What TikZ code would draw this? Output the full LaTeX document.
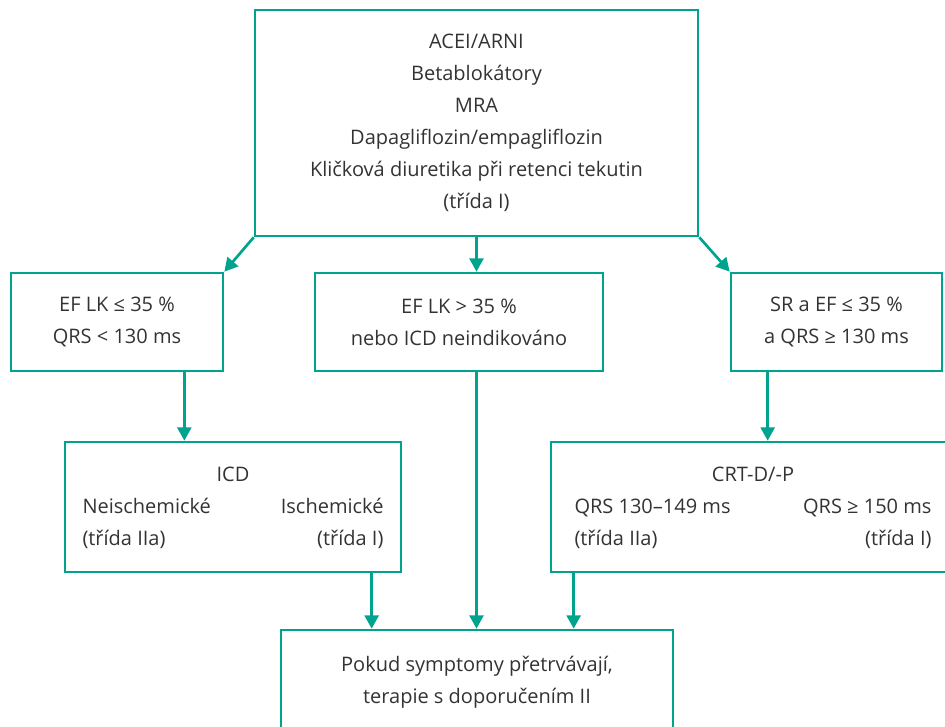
\documentclass[tikz,border=0pt]{standalone}
\usepackage{fontspec}
\setmainfont{Open Sans}
\usepackage{tikz}
\usetikzlibrary{arrows.meta,positioning,calc}
\definecolor{tealline}{RGB}{0,163,141}
\tikzset{
  box/.style={draw=tealline, line width=2pt, align=center, inner sep=0pt,
    text=black!80, font=\fontsize{15pt}{24pt}\selectfont},
  arrow/.style={draw=tealline, -{Triangle[length=10pt,width=10.5pt]}, line width=2pt},
}

\begin{document}
\begin{tikzpicture}[x=0.75pt,y=-0.75pt]
  \useasboundingbox (0,0) rectangle (945,726);
  \clip (0,0) rectangle (945,726);
  % first line
  \node[box, minimum width=443*0.75pt, minimum height=226*0.75pt] (top) at (476.5,123)
    {ACEI/ARNI\\Betablokátory\\MRA\\Dapagliflozin/empagliflozin\\Kličková diuretika při retenci tekutin\\(třída I)};
  % second line
  \node[box, minimum width=212*0.75pt, minimum height=98*0.75pt] (ef35) at (117,322)
    {EF LK ≤ 35 \%\\QRS < 130 ms};
  \node[box, minimum width=288*0.75pt, minimum height=98*0.75pt] (efgt) at (459,322)
    {EF LK > 35 \%\\nebo ICD neindikováno};
  \node[box, minimum width=211*0.75pt, minimum height=98*0.75pt] (sr) at (836.5,322)
    {SR a EF ≤ 35 \%\\a QRS ≥ 130 ms};
  % devices
  \node[box, minimum width=336*0.75pt, minimum height=130*0.75pt] (icd) at (233,507)
    {\begin{tabular*}{225.75pt}{@{}l@{\extracolsep{\fill}}r@{}}
      \multicolumn{2}{c}{ICD}\\
      Neischemické & Ischemické\\(třída IIa) & (třída I)\end{tabular*}};
  \node[box, minimum width=404*0.75pt, minimum height=130*0.75pt] (crt) at (753,507)
    {\begin{tabular*}{267.75pt}{@{}l@{\extracolsep{\fill}}r@{}}
      \multicolumn{2}{c}{CRT-D/-P}\\
      QRS 130–149 ms & QRS ≥ 150 ms\\(třída IIa) & (třída I)\end{tabular*}};
  % last line
  \node[box, minimum width=392*0.75pt, minimum height=104*0.75pt] (bot) at (477,682)
    {Pokud symptomy přetrvávají,\\terapie s doporučením II};

  \draw[arrow] (top.south west) -- (ef35.north east);
  \draw[arrow] (top.south) -- (top.south |- efgt.north);
  \draw[arrow] (top.south east) -- (sr.north west);
  \draw[arrow] ([xshift=-30pt]ef35.south east) -- ([xshift=-30pt]ef35.south east |- icd.north);
  \draw[arrow] ([xshift=28.5pt]sr.south west) -- ([xshift=28.5pt]sr.south west |- crt.north);
  \draw[arrow] ([xshift=-23pt]icd.south east) -- ([xshift=-23pt]icd.south east |- bot.north);
  \draw[arrow] (top.south |- efgt.south) -- (top.south |- bot.north);
  \draw[arrow] ([xshift=18pt]crt.south west) -- ([xshift=18pt]crt.south west |- bot.north);
\end{tikzpicture}
\end{document}
